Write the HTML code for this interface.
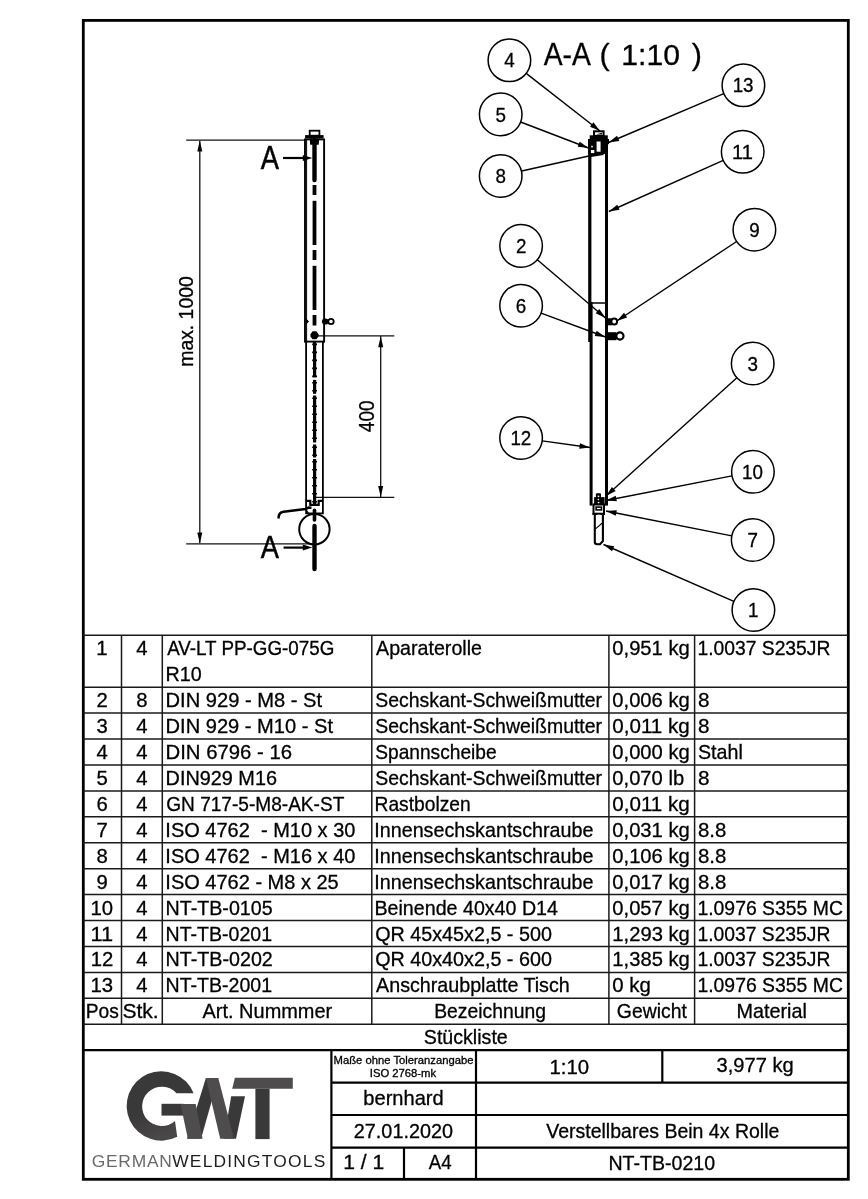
<!DOCTYPE html>
<html><head><meta charset="utf-8"><style>
html,body{margin:0;padding:0;background:#fff;}
svg{display:block;will-change:transform;}
text{font-family:"Liberation Sans",sans-serif;stroke:#000;stroke-width:0.3px;}
</style></head><body>
<svg width="868" height="1199" viewBox="0 0 868 1199">
<rect width="868" height="1199" fill="#fff"/>
<rect x="83.3" y="20.4" width="765.0" height="1158.9" fill="none" stroke="#000" stroke-width="2.8"/>
<line x1="83.30" y1="635.30" x2="848.30" y2="635.30" stroke="#1a1a1a" stroke-width="1.5" />
<line x1="83.30" y1="687.16" x2="848.30" y2="687.16" stroke="#1a1a1a" stroke-width="1.5" />
<line x1="83.30" y1="713.09" x2="848.30" y2="713.09" stroke="#1a1a1a" stroke-width="1.5" />
<line x1="83.30" y1="739.02" x2="848.30" y2="739.02" stroke="#1a1a1a" stroke-width="1.5" />
<line x1="83.30" y1="764.95" x2="848.30" y2="764.95" stroke="#1a1a1a" stroke-width="1.5" />
<line x1="83.30" y1="790.88" x2="848.30" y2="790.88" stroke="#1a1a1a" stroke-width="1.5" />
<line x1="83.30" y1="816.81" x2="848.30" y2="816.81" stroke="#1a1a1a" stroke-width="1.5" />
<line x1="83.30" y1="842.74" x2="848.30" y2="842.74" stroke="#1a1a1a" stroke-width="1.5" />
<line x1="83.30" y1="868.67" x2="848.30" y2="868.67" stroke="#1a1a1a" stroke-width="1.5" />
<line x1="83.30" y1="894.60" x2="848.30" y2="894.60" stroke="#1a1a1a" stroke-width="1.5" />
<line x1="83.30" y1="920.53" x2="848.30" y2="920.53" stroke="#1a1a1a" stroke-width="1.5" />
<line x1="83.30" y1="946.46" x2="848.30" y2="946.46" stroke="#1a1a1a" stroke-width="1.5" />
<line x1="83.30" y1="972.39" x2="848.30" y2="972.39" stroke="#1a1a1a" stroke-width="1.5" />
<line x1="83.30" y1="998.32" x2="848.30" y2="998.32" stroke="#1a1a1a" stroke-width="1.5" />
<line x1="83.30" y1="1024.25" x2="848.30" y2="1024.25" stroke="#1a1a1a" stroke-width="1.5" />
<line x1="83.30" y1="1050.18" x2="848.30" y2="1050.18" stroke="#000" stroke-width="2.2" />
<line x1="121.50" y1="635.30" x2="121.50" y2="1024.25" stroke="#1a1a1a" stroke-width="1.5" />
<line x1="162.30" y1="635.30" x2="162.30" y2="1024.25" stroke="#1a1a1a" stroke-width="1.5" />
<line x1="371.80" y1="635.30" x2="371.80" y2="1024.25" stroke="#1a1a1a" stroke-width="1.5" />
<line x1="608.90" y1="635.30" x2="608.90" y2="1024.25" stroke="#1a1a1a" stroke-width="1.5" />
<line x1="694.60" y1="635.30" x2="694.60" y2="1024.25" stroke="#1a1a1a" stroke-width="1.5" />
<text x="96.28" y="655.30" font-size="20.3" textLength="11.29" lengthAdjust="spacingAndGlyphs" fill="#000">1</text>
<text x="136.32" y="655.30" font-size="20.3" textLength="11.29" lengthAdjust="spacingAndGlyphs" fill="#000">4</text>
<text x="167.16" y="655.30" font-size="20.3" textLength="167.11" lengthAdjust="spacingAndGlyphs" fill="#000" style="white-space:pre">AV-LT PP-GG-075G</text>
<text x="376.06" y="655.30" font-size="20.3" textLength="105.91" lengthAdjust="spacingAndGlyphs" fill="#000" >Aparaterolle</text>
<text x="612.31" y="655.30" font-size="20.3" textLength="77.49" lengthAdjust="spacingAndGlyphs" fill="#000" >0,951 kg</text>
<text x="697.43" y="655.30" font-size="20.3" textLength="132.96" lengthAdjust="spacingAndGlyphs" fill="#000" >1.0037 S235JR</text>
<text x="165.58" y="681.23" font-size="20.3" textLength="36.12" lengthAdjust="spacingAndGlyphs" fill="#000" >R10</text>
<text x="96.56" y="707.16" font-size="20.3" textLength="11.29" lengthAdjust="spacingAndGlyphs" fill="#000">2</text>
<text x="136.26" y="707.16" font-size="20.3" textLength="11.29" lengthAdjust="spacingAndGlyphs" fill="#000">8</text>
<text x="165.55" y="707.16" font-size="20.3" textLength="156.50" lengthAdjust="spacingAndGlyphs" fill="#000" style="white-space:pre">DIN 929 - M8 - St</text>
<text x="375.22" y="707.16" font-size="20.3" textLength="226.81" lengthAdjust="spacingAndGlyphs" fill="#000" >Sechskant-Schweißmutter</text>
<text x="612.31" y="707.16" font-size="20.3" textLength="77.49" lengthAdjust="spacingAndGlyphs" fill="#000" >0,006 kg</text>
<text x="698.00" y="707.16" font-size="20.3" textLength="11.50" lengthAdjust="spacingAndGlyphs" fill="#000" >8</text>
<text x="96.61" y="733.09" font-size="20.3" textLength="11.29" lengthAdjust="spacingAndGlyphs" fill="#000">3</text>
<text x="136.32" y="733.09" font-size="20.3" textLength="11.29" lengthAdjust="spacingAndGlyphs" fill="#000">4</text>
<text x="165.55" y="733.09" font-size="20.3" textLength="167.50" lengthAdjust="spacingAndGlyphs" fill="#000" style="white-space:pre">DIN 929 - M10 - St</text>
<text x="375.22" y="733.09" font-size="20.3" textLength="226.81" lengthAdjust="spacingAndGlyphs" fill="#000" >Sechskant-Schweißmutter</text>
<text x="612.31" y="733.09" font-size="20.3" textLength="77.49" lengthAdjust="spacingAndGlyphs" fill="#000" >0,011 kg</text>
<text x="698.00" y="733.09" font-size="20.3" textLength="11.50" lengthAdjust="spacingAndGlyphs" fill="#000" >8</text>
<text x="96.62" y="759.02" font-size="20.3" textLength="11.29" lengthAdjust="spacingAndGlyphs" fill="#000">4</text>
<text x="136.32" y="759.02" font-size="20.3" textLength="11.29" lengthAdjust="spacingAndGlyphs" fill="#000">4</text>
<text x="165.53" y="759.02" font-size="20.3" textLength="126.56" lengthAdjust="spacingAndGlyphs" fill="#000" style="white-space:pre">DIN 6796 - 16</text>
<text x="375.23" y="759.02" font-size="20.3" textLength="121.42" lengthAdjust="spacingAndGlyphs" fill="#000" >Spannscheibe</text>
<text x="612.31" y="759.02" font-size="20.3" textLength="77.49" lengthAdjust="spacingAndGlyphs" fill="#000" >0,000 kg</text>
<text x="698.01" y="759.02" font-size="20.3" textLength="44.81" lengthAdjust="spacingAndGlyphs" fill="#000" >Stahl</text>
<text x="96.57" y="784.95" font-size="20.3" textLength="11.29" lengthAdjust="spacingAndGlyphs" fill="#000">5</text>
<text x="136.32" y="784.95" font-size="20.3" textLength="11.29" lengthAdjust="spacingAndGlyphs" fill="#000">4</text>
<text x="165.57" y="784.95" font-size="20.3" textLength="111.40" lengthAdjust="spacingAndGlyphs" fill="#000" style="white-space:pre">DIN929 M16</text>
<text x="375.22" y="784.95" font-size="20.3" textLength="226.81" lengthAdjust="spacingAndGlyphs" fill="#000" >Sechskant-Schweißmutter</text>
<text x="612.31" y="784.95" font-size="20.3" textLength="71.84" lengthAdjust="spacingAndGlyphs" fill="#000" >0,070 lb</text>
<text x="698.00" y="784.95" font-size="20.3" textLength="11.50" lengthAdjust="spacingAndGlyphs" fill="#000" >8</text>
<text x="96.49" y="810.88" font-size="20.3" textLength="11.29" lengthAdjust="spacingAndGlyphs" fill="#000">6</text>
<text x="136.32" y="810.88" font-size="20.3" textLength="11.29" lengthAdjust="spacingAndGlyphs" fill="#000">4</text>
<text x="166.24" y="810.88" font-size="20.3" textLength="178.10" lengthAdjust="spacingAndGlyphs" fill="#000" style="white-space:pre">GN 717-5-M8-AK-ST</text>
<text x="374.52" y="810.88" font-size="20.3" textLength="96.23" lengthAdjust="spacingAndGlyphs" fill="#000" >Rastbolzen</text>
<text x="612.31" y="810.88" font-size="20.3" textLength="77.49" lengthAdjust="spacingAndGlyphs" fill="#000" >0,011 kg</text>
<text x="96.55" y="836.81" font-size="20.3" textLength="11.29" lengthAdjust="spacingAndGlyphs" fill="#000">7</text>
<text x="136.32" y="836.81" font-size="20.3" textLength="11.29" lengthAdjust="spacingAndGlyphs" fill="#000">4</text>
<text x="165.35" y="836.81" font-size="20.3" textLength="190.03" lengthAdjust="spacingAndGlyphs" fill="#000" style="white-space:pre">ISO 4762  - M10 x 30</text>
<text x="374.28" y="836.81" font-size="20.3" textLength="219.20" lengthAdjust="spacingAndGlyphs" fill="#000" >Innensechskantschraube</text>
<text x="612.31" y="836.81" font-size="20.3" textLength="77.49" lengthAdjust="spacingAndGlyphs" fill="#000" >0,031 kg</text>
<text x="698.01" y="836.81" font-size="20.3" textLength="28.37" lengthAdjust="spacingAndGlyphs" fill="#000" >8.8</text>
<text x="96.56" y="862.74" font-size="20.3" textLength="11.29" lengthAdjust="spacingAndGlyphs" fill="#000">8</text>
<text x="136.32" y="862.74" font-size="20.3" textLength="11.29" lengthAdjust="spacingAndGlyphs" fill="#000">4</text>
<text x="165.35" y="862.74" font-size="20.3" textLength="190.03" lengthAdjust="spacingAndGlyphs" fill="#000" style="white-space:pre">ISO 4762  - M16 x 40</text>
<text x="374.28" y="862.74" font-size="20.3" textLength="219.20" lengthAdjust="spacingAndGlyphs" fill="#000" >Innensechskantschraube</text>
<text x="612.31" y="862.74" font-size="20.3" textLength="77.49" lengthAdjust="spacingAndGlyphs" fill="#000" >0,106 kg</text>
<text x="698.01" y="862.74" font-size="20.3" textLength="28.37" lengthAdjust="spacingAndGlyphs" fill="#000" >8.8</text>
<text x="96.56" y="888.67" font-size="20.3" textLength="11.29" lengthAdjust="spacingAndGlyphs" fill="#000">9</text>
<text x="136.32" y="888.67" font-size="20.3" textLength="11.29" lengthAdjust="spacingAndGlyphs" fill="#000">4</text>
<text x="165.35" y="888.67" font-size="20.3" textLength="173.39" lengthAdjust="spacingAndGlyphs" fill="#000" style="white-space:pre">ISO 4762 - M8 x 25</text>
<text x="374.28" y="888.67" font-size="20.3" textLength="219.20" lengthAdjust="spacingAndGlyphs" fill="#000" >Innensechskantschraube</text>
<text x="612.31" y="888.67" font-size="20.3" textLength="77.49" lengthAdjust="spacingAndGlyphs" fill="#000" >0,017 kg</text>
<text x="698.01" y="888.67" font-size="20.3" textLength="28.37" lengthAdjust="spacingAndGlyphs" fill="#000" >8.8</text>
<text x="90.53" y="914.60" font-size="20.3" textLength="22.58" lengthAdjust="spacingAndGlyphs" fill="#000">10</text>
<text x="136.32" y="914.60" font-size="20.3" textLength="11.29" lengthAdjust="spacingAndGlyphs" fill="#000">4</text>
<text x="165.60" y="914.60" font-size="20.3" textLength="107.01" lengthAdjust="spacingAndGlyphs" fill="#000" style="white-space:pre">NT-TB-0105</text>
<text x="374.49" y="914.60" font-size="20.3" textLength="183.49" lengthAdjust="spacingAndGlyphs" fill="#000" >Beinende 40x40 D14</text>
<text x="612.31" y="914.60" font-size="20.3" textLength="77.49" lengthAdjust="spacingAndGlyphs" fill="#000" >0,057 kg</text>
<text x="697.42" y="914.60" font-size="20.3" textLength="145.52" lengthAdjust="spacingAndGlyphs" fill="#000" >1.0976 S355 MC</text>
<text x="90.63" y="940.53" font-size="20.3" textLength="22.58" lengthAdjust="spacingAndGlyphs" fill="#000">11</text>
<text x="136.32" y="940.53" font-size="20.3" textLength="11.29" lengthAdjust="spacingAndGlyphs" fill="#000">4</text>
<text x="165.61" y="940.53" font-size="20.3" textLength="106.43" lengthAdjust="spacingAndGlyphs" fill="#000" style="white-space:pre">NT-TB-0201</text>
<text x="375.16" y="940.53" font-size="20.3" textLength="176.71" lengthAdjust="spacingAndGlyphs" fill="#000" >QR 45x45x2,5 - 500</text>
<text x="612.36" y="940.53" font-size="20.3" textLength="77.44" lengthAdjust="spacingAndGlyphs" fill="#000" >1,293 kg</text>
<text x="697.43" y="940.53" font-size="20.3" textLength="132.96" lengthAdjust="spacingAndGlyphs" fill="#000" >1.0037 S235JR</text>
<text x="90.65" y="966.46" font-size="20.3" textLength="22.58" lengthAdjust="spacingAndGlyphs" fill="#000">12</text>
<text x="136.32" y="966.46" font-size="20.3" textLength="11.29" lengthAdjust="spacingAndGlyphs" fill="#000">4</text>
<text x="165.60" y="966.46" font-size="20.3" textLength="107.18" lengthAdjust="spacingAndGlyphs" fill="#000" style="white-space:pre">NT-TB-0202</text>
<text x="375.16" y="966.46" font-size="20.3" textLength="176.71" lengthAdjust="spacingAndGlyphs" fill="#000" >QR 40x40x2,5 - 600</text>
<text x="612.36" y="966.46" font-size="20.3" textLength="77.44" lengthAdjust="spacingAndGlyphs" fill="#000" >1,385 kg</text>
<text x="697.43" y="966.46" font-size="20.3" textLength="132.96" lengthAdjust="spacingAndGlyphs" fill="#000" >1.0037 S235JR</text>
<text x="90.58" y="992.39" font-size="20.3" textLength="22.58" lengthAdjust="spacingAndGlyphs" fill="#000">13</text>
<text x="136.32" y="992.39" font-size="20.3" textLength="11.29" lengthAdjust="spacingAndGlyphs" fill="#000">4</text>
<text x="165.61" y="992.39" font-size="20.3" textLength="106.43" lengthAdjust="spacingAndGlyphs" fill="#000" style="white-space:pre">NT-TB-2001</text>
<text x="376.06" y="992.39" font-size="20.3" textLength="193.71" lengthAdjust="spacingAndGlyphs" fill="#000" >Anschraubplatte Tisch</text>
<text x="612.30" y="992.39" font-size="20.3" textLength="38.61" lengthAdjust="spacingAndGlyphs" fill="#000" >0 kg</text>
<text x="697.42" y="992.39" font-size="20.3" textLength="145.52" lengthAdjust="spacingAndGlyphs" fill="#000" >1.0976 S355 MC</text>
<text x="85.73" y="1018.32" font-size="20.3" textLength="33.07" lengthAdjust="spacingAndGlyphs" fill="#000" >Pos</text>
<text x="122.44" y="1018.32" font-size="20.3" textLength="36.28" lengthAdjust="spacingAndGlyphs" fill="#000" >Stk.</text>
<text x="202.56" y="1018.32" font-size="20.3" textLength="129.67" lengthAdjust="spacingAndGlyphs" fill="#000" >Art. Nummmer</text>
<text x="434.21" y="1018.32" font-size="20.3" textLength="111.73" lengthAdjust="spacingAndGlyphs" fill="#000" >Bezeichnung</text>
<text x="616.83" y="1018.32" font-size="20.3" textLength="70.02" lengthAdjust="spacingAndGlyphs" fill="#000" >Gewicht</text>
<text x="736.48" y="1018.32" font-size="20.3" textLength="70.45" lengthAdjust="spacingAndGlyphs" fill="#000" >Material</text>
<text x="423.81" y="1044.25" font-size="20.3" textLength="83.96" lengthAdjust="spacingAndGlyphs" fill="#000" >Stückliste</text>
<line x1="331.40" y1="1050.18" x2="331.40" y2="1179.30" stroke="#000" stroke-width="2.2" />
<line x1="476.00" y1="1050.18" x2="476.00" y2="1179.30" stroke="#000" stroke-width="2.2" />
<line x1="331.40" y1="1082.60" x2="848.30" y2="1082.60" stroke="#000" stroke-width="2.2" />
<line x1="331.40" y1="1115.00" x2="848.30" y2="1115.00" stroke="#000" stroke-width="2.2" />
<line x1="331.40" y1="1147.60" x2="848.30" y2="1147.60" stroke="#000" stroke-width="2.2" />
<line x1="662.30" y1="1050.18" x2="662.30" y2="1082.60" stroke="#000" stroke-width="2.2" />
<line x1="404.00" y1="1147.60" x2="404.00" y2="1179.30" stroke="#000" stroke-width="2.2" />
<text x="333.59" y="1063.80" font-size="11" textLength="139.91" lengthAdjust="spacingAndGlyphs" fill="#000" >Maße ohne Toleranzangabe</text>
<text x="369.76" y="1077.30" font-size="11" textLength="66.32" lengthAdjust="spacingAndGlyphs" fill="#000" >ISO 2768-mk</text>
<text x="549.55" y="1073.60" font-size="20.3" textLength="39.65" lengthAdjust="spacingAndGlyphs" fill="#000" >1:10</text>
<text x="716.53" y="1071.50" font-size="20.3" textLength="77.16" lengthAdjust="spacingAndGlyphs" fill="#000" >3,977 kg</text>
<text x="363.31" y="1105.30" font-size="20.3" textLength="80.39" lengthAdjust="spacingAndGlyphs" fill="#000" >bernhard</text>
<text x="353.80" y="1138.40" font-size="20.3" textLength="99.27" lengthAdjust="spacingAndGlyphs" fill="#000" >27.01.2020</text>
<text x="546.21" y="1138.10" font-size="20.3" textLength="233.15" lengthAdjust="spacingAndGlyphs" fill="#000" >Verstellbares Bein 4x Rolle</text>
<text x="343.29" y="1168.90" font-size="20.3" textLength="41.04" lengthAdjust="spacingAndGlyphs" fill="#000" >1 / 1</text>
<text x="428.86" y="1168.90" font-size="20.3" textLength="22.78" lengthAdjust="spacingAndGlyphs" fill="#000" >A4</text>
<text x="608.41" y="1170.20" font-size="20.3" textLength="106.65" lengthAdjust="spacingAndGlyphs" fill="#000" >NT-TB-0210</text>
<defs><linearGradient id="gg" x1="0" y1="0" x2="0.3" y2="1"><stop offset="0" stop-color="#3a393a"/><stop offset="0.62" stop-color="#3a393a"/><stop offset="1" stop-color="#4a4748"/></linearGradient></defs>
<path d="M193.6,1093.2 A34.7,34.7 0 1 0 177.2,1136.8 L175.0,1121.0 A19.7,19.7 0 1 1 176.5,1093.2 Z" fill="url(#gg)"/>
<rect x="161.5" y="1103.8" width="22" height="11.8" fill="#3a393a"/>
<polygon points="187,1138.7 201,1138.7 218.3,1078 205.9,1078" fill="#3a393a"/>
<polygon points="224,1138.7 236,1138.7 245,1096.3 231.2,1096.3" fill="#3a393a"/>
<polygon points="180.5,1104 195.7,1104 202.6,1138.7 187.9,1138.7" fill="#4f4c4d"/>
<polygon points="205.9,1078 218.3,1078 234,1138.7 220.2,1138.7" fill="#4f4c4d"/>
<polygon points="234.9,1077.8 292.8,1077.8 292.8,1088.7 232.2,1088.7" fill="#4f4c4d"/>
<rect x="255.4" y="1088.7" width="14.2" height="50.4" fill="#3a393a"/>
<text x="91.72" y="1166.50" font-size="17.4" textLength="80.09" lengthAdjust="spacing" fill="#6a6a6a" style="stroke:none">GERMAN</text>
<text x="172.22" y="1166.50" font-size="17.4" textLength="153.08" lengthAdjust="spacing" fill="#1e1e1e" style="stroke:none">WELDINGTOOLS</text>
<line x1="186.2" y1="140.1" x2="305" y2="140.1" stroke="#111" stroke-width="1.3"/>
<line x1="186.2" y1="543.9" x2="313" y2="543.9" stroke="#111" stroke-width="1.3"/>
<line x1="199.8" y1="141" x2="199.8" y2="543" stroke="#111" stroke-width="1.3"/>
<polygon points="199.80,140.60 202.30,151.60 197.30,151.60" fill="#000"/>
<polygon points="199.80,543.40 197.30,532.40 202.30,532.40" fill="#000"/>
<line x1="318" y1="335.8" x2="394.3" y2="335.8" stroke="#111" stroke-width="1.3"/>
<line x1="315" y1="497.4" x2="394.3" y2="497.4" stroke="#111" stroke-width="1.3"/>
<line x1="380.7" y1="336" x2="380.7" y2="497" stroke="#111" stroke-width="1.3"/>
<polygon points="380.70,336.30 383.20,347.30 378.20,347.30" fill="#000"/>
<polygon points="380.70,496.90 378.20,485.90 383.20,485.90" fill="#000"/>
<rect x="305.0" y="139.4" width="19.1" height="202.2" fill="none" stroke="#000" stroke-width="1.9"/>
<line x1="306.6" y1="140" x2="306.6" y2="341.6" stroke="#000" stroke-width="1.0"/>
<polyline points="306.1,341.6 306.1,513.3 322.9,513.3 322.9,341.6" fill="none" stroke="#000" stroke-width="1.8"/>
<rect x="309.7" y="130.7" width="9.7" height="5" fill="#fff" stroke="#000" stroke-width="1.8"/>
<rect x="305.1" y="135.1" width="18.5" height="3.4" fill="#000"/>
<polygon points="309.8,138.4 319.2,138.4 318.7,144.8 310.2,144.8" fill="#000"/>
<line x1="314.5" y1="140" x2="314.5" y2="180" stroke="#000" stroke-width="4.4" stroke-linecap="round"/>
<line x1="314.5" y1="185" x2="314.5" y2="195" stroke="#000" stroke-width="3.8"/>
<line x1="314.5" y1="200.8" x2="314.5" y2="245" stroke="#000" stroke-width="3.8"/>
<line x1="314.5" y1="250" x2="314.5" y2="260" stroke="#000" stroke-width="3.8"/>
<line x1="314.5" y1="265.8" x2="314.5" y2="310" stroke="#000" stroke-width="3.8"/>
<line x1="314.5" y1="315" x2="314.5" y2="325.5" stroke="#000" stroke-width="3.8"/>
<polygon points="312.6,331.3 316.4,331.3 318.5,334.2 318.5,336.5 316.4,339.3 312.6,339.3 310.5,336.5 310.5,334.2" fill="#000"/>
<line x1="314.6" y1="341.6" x2="314.6" y2="377.3" stroke="#000" stroke-width="3.2"/>
<line x1="314.6" y1="343.6" x2="314.6" y2="377.3" stroke="#000" stroke-width="4.8" stroke-dasharray="1.6 6.4"/>
<line x1="314.6" y1="379.9" x2="314.6" y2="393.8" stroke="#000" stroke-width="3.2"/>
<line x1="314.6" y1="381.9" x2="314.6" y2="393.8" stroke="#000" stroke-width="4.8" stroke-dasharray="1.6 6.4"/>
<line x1="314.6" y1="395.5" x2="314.6" y2="442.5" stroke="#000" stroke-width="3.2"/>
<line x1="314.6" y1="397.5" x2="314.6" y2="442.5" stroke="#000" stroke-width="4.8" stroke-dasharray="1.6 6.4"/>
<line x1="314.6" y1="444.5" x2="314.6" y2="457.5" stroke="#000" stroke-width="3.2"/>
<line x1="314.6" y1="446.5" x2="314.6" y2="457.5" stroke="#000" stroke-width="4.8" stroke-dasharray="1.6 6.4"/>
<line x1="314.6" y1="459" x2="314.6" y2="504" stroke="#000" stroke-width="3.2"/>
<line x1="314.6" y1="461" x2="314.6" y2="504" stroke="#000" stroke-width="4.8" stroke-dasharray="1.6 6.4"/>
<ellipse cx="325.3" cy="321.5" rx="3.4" ry="3.1" fill="#000"/>
<circle cx="331" cy="321.5" r="2.7" fill="#fff" stroke="#000" stroke-width="1.8"/>
<polygon points="306,318.6 309,321.5 306,324.4" fill="#000"/>
<path d="M306.5,500.8 H310.3 V504.9 H318.7 V500.8 H322.5" fill="none" stroke="#000" stroke-width="2.2"/>
<path d="M306.2,510.2 L308.3,513.2" fill="none" stroke="#000" stroke-width="1.4"/>
<line x1="314.5" y1="510.3" x2="314.5" y2="520" stroke="#000" stroke-width="3.6" stroke-linecap="round"/>
<path d="M278.6,518.5 C278.4,514.5 279.6,512.3 283.5,511.7 L305.6,509.0 L308.5,507.6 L311.5,507.8" fill="none" stroke="#000" stroke-width="2.5"/>
<circle cx="314.4" cy="529.3" r="15.2" fill="none" stroke="#000" stroke-width="2.0"/>
<line x1="314.5" y1="526" x2="314.5" y2="569" stroke="#000" stroke-width="4.4" stroke-linecap="round"/>
<text x="260.85" y="168.80" font-size="32.6" textLength="18.21" lengthAdjust="spacingAndGlyphs" fill="#000" style="stroke-width:0.5px">A</text>
<text x="260.85" y="558.00" font-size="31.0" textLength="18.21" lengthAdjust="spacingAndGlyphs" fill="#000" style="stroke-width:0.5px">A</text>
<line x1="283" y1="158" x2="305" y2="158" stroke="#000" stroke-width="2.2"/>
<polygon points="312.30,158.00 302.80,161.00 302.80,155.00" fill="#000"/>
<line x1="283.6" y1="547.6" x2="305" y2="547.6" stroke="#000" stroke-width="2.2"/>
<polygon points="312.30,547.60 302.80,550.60 302.80,544.60" fill="#000"/>
<text transform="translate(193.30,366.68) rotate(-90)" x="0" y="0" font-size="21.1" textLength="90.34" lengthAdjust="spacingAndGlyphs" fill="#000" >max. 1000</text>
<text transform="translate(374.00,432.14) rotate(-90)" x="0" y="0" font-size="21.5" textLength="31.78" lengthAdjust="spacingAndGlyphs" fill="#000" >400</text>
<text x="543.74" y="64.70" font-size="31.8" textLength="47.11" lengthAdjust="spacingAndGlyphs" fill="#000" >A-A</text>
<text x="599.51" y="64.70" font-size="30.4" textLength="10.17" lengthAdjust="spacingAndGlyphs" fill="#000" >(</text>
<text x="621.30" y="64.70" font-size="30.4" textLength="58.67" lengthAdjust="spacingAndGlyphs" fill="#000" >1:10</text>
<text x="691.82" y="64.70" font-size="30.4" textLength="10.17" lengthAdjust="spacingAndGlyphs" fill="#000" >)</text>
<rect x="588.2" y="139" width="3.2" height="203" fill="#000"/>
<rect x="605.0" y="139" width="3.0" height="366.6" fill="#000"/>
<rect x="589.6" y="302" width="3.0" height="203.6" fill="#000"/>
<line x1="591" y1="303" x2="606" y2="303" stroke="#000" stroke-width="1.5"/>
<rect x="594.0" y="131.3" width="9.6" height="4.6" fill="#fff" stroke="#000" stroke-width="2"/>
<polygon points="596,134.4 602,134.4 602,132.8" fill="#000"/>
<rect x="589.7" y="135.3" width="18.1" height="4" fill="#000"/>
<rect x="588.2" y="139" width="20.8" height="5.2" fill="#000"/>
<rect x="588.2" y="139" width="16.8" height="15" fill="#000"/>
<polygon points="590,154 603.5,151 603.5,155 591,157" fill="#000"/>
<rect x="596.6" y="141.5" width="4" height="10.2" fill="#fff"/>
<rect x="590.9" y="150" width="3.4" height="3.1" fill="#fff"/>
<rect x="591.2" y="145.8" width="1.6" height="1.6" fill="#fff"/>
<rect x="605" y="318.3" width="7" height="7" fill="#000"/>
<circle cx="614.2" cy="321.5" r="2.9" fill="#fff" stroke="#000" stroke-width="2"/>
<rect x="605" y="332.2" width="11.5" height="8" fill="#000"/>
<circle cx="619.9" cy="336" r="3.6" fill="#fff" stroke="#000" stroke-width="2.2"/>
<rect x="594.1" y="497.1" width="10.5" height="7" fill="#000"/>
<rect x="595.9" y="493.3" width="5.1" height="11" rx="1" fill="#000"/>
<circle cx="598.5" cy="496.3" r="0.9" fill="#fff"/>
<circle cx="598.4" cy="499.5" r="0.8" fill="#fff"/>
<circle cx="598.6" cy="502.6" r="0.9" fill="#fff"/>
<rect x="593.5" y="504.5" width="10.5" height="9.2" fill="none" stroke="#000" stroke-width="2"/>
<rect x="596.1" y="507.1" width="5.4" height="2.8" fill="none" stroke="#000" stroke-width="1.6"/>
<line x1="592.5" y1="514" x2="597" y2="514" stroke="#000" stroke-width="2"/>
<line x1="600.5" y1="514" x2="605" y2="514" stroke="#000" stroke-width="2"/>
<path d="M594.8,514 L594.8,542 Q594.8,544.2 597,544.2 L600,544.2 L602.9,541 L602.9,514" fill="none" stroke="#000" stroke-width="2.1"/>
<line x1="595.5" y1="528.8" x2="602.3" y2="523" stroke="#000" stroke-width="1.1"/>
<circle cx="509.4" cy="60.3" r="21.3" fill="none" stroke="#000" stroke-width="1.5"/>
<text x="504.24" y="67.40" font-size="20.2" textLength="10.45" lengthAdjust="spacingAndGlyphs" fill="#000">4</text>
<circle cx="500.7" cy="114.4" r="21.3" fill="none" stroke="#000" stroke-width="1.5"/>
<text x="495.49" y="121.50" font-size="20.2" textLength="10.45" lengthAdjust="spacingAndGlyphs" fill="#000">5</text>
<circle cx="500.7" cy="176.0" r="21.3" fill="none" stroke="#000" stroke-width="1.5"/>
<text x="495.48" y="183.10" font-size="20.2" textLength="10.45" lengthAdjust="spacingAndGlyphs" fill="#000">8</text>
<circle cx="743.4" cy="85.3" r="21.3" fill="none" stroke="#000" stroke-width="1.5"/>
<text x="732.65" y="92.40" font-size="20.2" textLength="20.90" lengthAdjust="spacingAndGlyphs" fill="#000">13</text>
<circle cx="742.7" cy="151.8" r="21.3" fill="none" stroke="#000" stroke-width="1.5"/>
<text x="732.00" y="158.90" font-size="20.2" textLength="20.90" lengthAdjust="spacingAndGlyphs" fill="#000">11</text>
<circle cx="754.4" cy="229.7" r="21.3" fill="none" stroke="#000" stroke-width="1.5"/>
<text x="749.18" y="236.80" font-size="20.2" textLength="10.45" lengthAdjust="spacingAndGlyphs" fill="#000">9</text>
<circle cx="521.1" cy="245.9" r="21.3" fill="none" stroke="#000" stroke-width="1.5"/>
<text x="515.88" y="253.00" font-size="20.2" textLength="10.45" lengthAdjust="spacingAndGlyphs" fill="#000">2</text>
<circle cx="521.1" cy="305.7" r="21.3" fill="none" stroke="#000" stroke-width="1.5"/>
<text x="515.81" y="312.80" font-size="20.2" textLength="10.45" lengthAdjust="spacingAndGlyphs" fill="#000">6</text>
<circle cx="752.7" cy="363.5" r="21.3" fill="none" stroke="#000" stroke-width="1.5"/>
<text x="747.53" y="370.60" font-size="20.2" textLength="10.45" lengthAdjust="spacingAndGlyphs" fill="#000">3</text>
<circle cx="521.1" cy="438.0" r="21.3" fill="none" stroke="#000" stroke-width="1.5"/>
<text x="510.41" y="445.10" font-size="20.2" textLength="20.90" lengthAdjust="spacingAndGlyphs" fill="#000">12</text>
<circle cx="752.9" cy="471.8" r="21.3" fill="none" stroke="#000" stroke-width="1.5"/>
<text x="742.10" y="478.90" font-size="20.2" textLength="20.90" lengthAdjust="spacingAndGlyphs" fill="#000">10</text>
<circle cx="752.7" cy="540.0" r="21.3" fill="none" stroke="#000" stroke-width="1.5"/>
<text x="747.47" y="547.10" font-size="20.2" textLength="10.45" lengthAdjust="spacingAndGlyphs" fill="#000">7</text>
<circle cx="753.4" cy="610.0" r="21.3" fill="none" stroke="#000" stroke-width="1.5"/>
<text x="747.92" y="617.10" font-size="20.2" textLength="10.45" lengthAdjust="spacingAndGlyphs" fill="#000">1</text>
<line x1="526.19" y1="73.40" x2="600.00" y2="131.00" stroke="#000" stroke-width="1.4"/>
<polygon points="600.00,131.00 590.00,126.75 593.44,122.33" fill="#000"/>
<line x1="520.59" y1="122.01" x2="588.50" y2="148.00" stroke="#000" stroke-width="1.4"/>
<polygon points="588.50,148.00 577.69,146.86 579.69,141.63" fill="#000"/>
<line x1="521.7" y1="171" x2="591" y2="155.5" stroke="#000" stroke-width="1.4"/>
<line x1="723.79" y1="93.61" x2="608.50" y2="142.50" stroke="#000" stroke-width="1.4"/>
<polygon points="608.50,142.50 617.07,135.82 619.26,140.98" fill="#000"/>
<line x1="723.25" y1="160.47" x2="608.80" y2="211.50" stroke="#000" stroke-width="1.4"/>
<polygon points="608.80,211.50 617.25,204.67 619.53,209.78" fill="#000"/>
<line x1="736.65" y1="241.48" x2="616.80" y2="321.00" stroke="#000" stroke-width="1.4"/>
<polygon points="616.80,321.00 624.00,312.86 627.10,317.53" fill="#000"/>
<line x1="537.30" y1="259.73" x2="605.50" y2="318.00" stroke="#000" stroke-width="1.4"/>
<polygon points="605.50,318.00 595.70,313.31 599.34,309.05" fill="#000"/>
<line x1="541.07" y1="313.11" x2="605.50" y2="337.00" stroke="#000" stroke-width="1.4"/>
<polygon points="605.50,337.00 594.68,335.97 596.63,330.72" fill="#000"/>
<line x1="736.89" y1="377.78" x2="606.00" y2="496.00" stroke="#000" stroke-width="1.4"/>
<polygon points="606.00,496.00 611.92,486.88 615.67,491.04" fill="#000"/>
<line x1="542.20" y1="440.91" x2="590.00" y2="447.50" stroke="#000" stroke-width="1.4"/>
<polygon points="590.00,447.50 579.22,448.84 579.98,443.29" fill="#000"/>
<line x1="732.00" y1="475.88" x2="606.00" y2="500.50" stroke="#000" stroke-width="1.4"/>
<polygon points="606.00,500.50 615.77,495.74 616.84,501.23" fill="#000"/>
<line x1="731.80" y1="535.87" x2="606.00" y2="511.00" stroke="#000" stroke-width="1.4"/>
<polygon points="606.00,511.00 616.84,510.29 615.76,515.78" fill="#000"/>
<line x1="733.88" y1="601.47" x2="603.50" y2="544.50" stroke="#000" stroke-width="1.4"/>
<polygon points="603.50,544.50 614.24,546.14 612.00,551.27" fill="#000"/>
</svg>
</body></html>
